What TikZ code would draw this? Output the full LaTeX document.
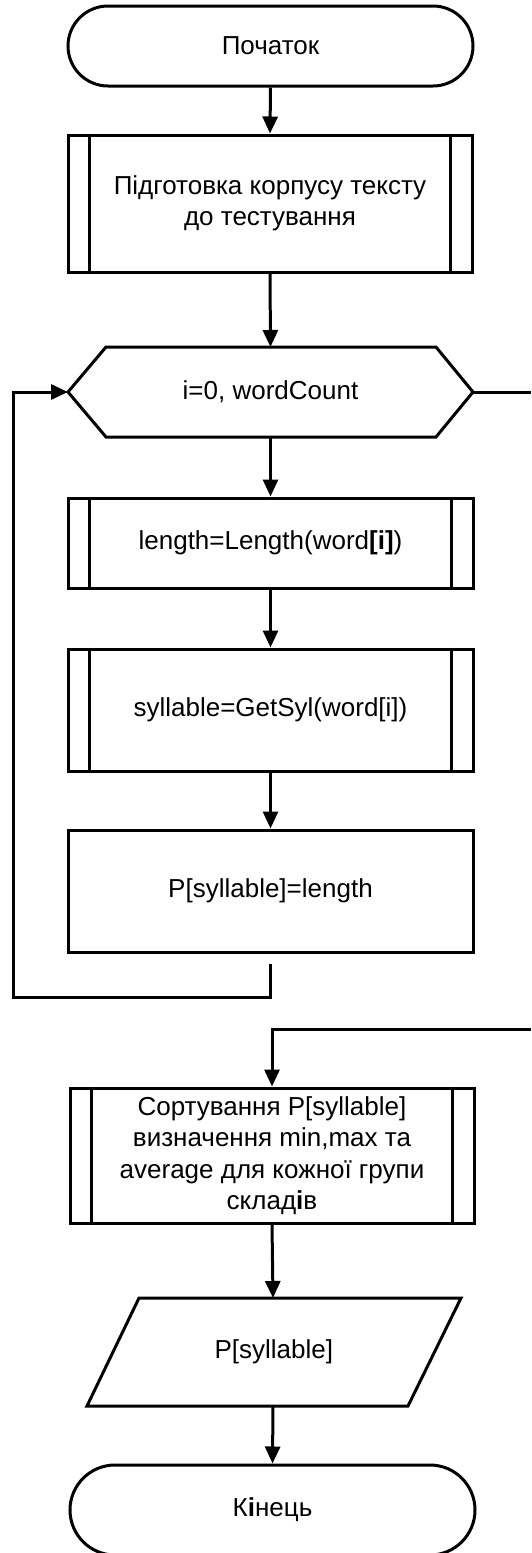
\documentclass[tikz,border=0pt]{standalone}
\usepackage{fontspec}
\setmainfont{Liberation Sans}
\usetikzlibrary{arrows.meta,calc}
\begin{document}
\begin{tikzpicture}[x=1pt,y=1pt,
  shapeline/.style={draw=black,line width=3pt,line join=miter},
  txt/.style={font=\fontsize{26}{31.5}\selectfont,align=center,inner sep=0pt},
  term/.style={shapeline,txt,rectangle,minimum width=405pt,minimum height=#1,rounded corners=#1/2},
  proc/.style={shapeline,txt,rectangle,minimum width=405pt,minimum height=#1},
  subline/.style={draw=black,line width=3pt},
  subproc/.style={proc=#1,append after command={
      ([xshift=23pt]\tikzlastnode.north west) edge[subline] ([xshift=23pt]\tikzlastnode.south west)
      ([xshift=-23pt]\tikzlastnode.north east) edge[subline] ([xshift=-23pt]\tikzlastnode.south east)}},
  flow/.style={draw=black,line width=3pt,-{Triangle[length=17pt,width=15pt]}},
  plain/.style={draw=black,line width=3pt}
]
\useasboundingbox (0,0) rectangle (531,-1553);

\node[term=80pt] (start) at (270.5,-46) {Початок};
\node[subproc=137pt,minimum width=404pt] (b1) at (270,-203.5) {Підготовка корпусу тексту\\до тестування};

% loop hexagon
\node[txt] (hex) at (270.5,-392) {i=0, wordCount};
\coordinate (hexL) at (68,-392);
\coordinate (hexR) at (473,-392);
\coordinate (hexT) at (270.5,-347);
\coordinate (hexB) at (270.5,-437);
\draw[shapeline] (hexL) -- (106,-347) -- (436,-347) -- (hexR) -- (436,-437) -- (106,-437) -- cycle;

\node[subproc=90pt] (b2) at (270.5,-543) {length=Length(word\textbf{[i]})};
\node[subproc=122pt] (b3) at (270.5,-710) {syllable=GetSyl(word[i])};
\node[proc=122pt] (b4) at (270.5,-891) {P[syllable]=length};

\node[subproc=135pt,minimum width=404pt] (b5) at (272,-1155.5) {Сортування P[syllable]\\визначення min,max та\\average для кожної групи\\склад\textbf{і}в};

% output parallelogram
\node[txt] (par) at (273.75,-1352) {P[syllable]};
\coordinate (parT) at (273,-1298);
\coordinate (parB) at (273,-1406);
\draw[shapeline] (139,-1298) -- (461,-1298) -- (408,-1406) -- (87,-1406) -- cycle;

\node[term=90pt] (end) at (272.5,-1510) {К\textbf{і}нець};

% connectors
\draw[flow] (start.south) -- (b1.north);
\draw[flow] (b1.south) -- (hexT);
\draw[flow] (hexB) -- (b2.north);
\draw[flow] (b2.south) -- (b3.north);
\draw[flow] (b3.south) -- (b4.north);

\coordinate (l0) at ($(b4.south)+(0,-10)$);
\coordinate (lc) at (13,-997);
\draw[flow] (l0) |- (lc) |- (hexL);

\coordinate (ex1) at (531,-392);
\coordinate (ex2) at (531,-1029);
\draw[plain] (hexR) -- (ex1);
\draw[flow] (ex2) -| (b5.north);

\draw[flow] (b5.south) -- (parT);
\draw[flow] (parB) -- (end.north);
\end{tikzpicture}
\end{document}
